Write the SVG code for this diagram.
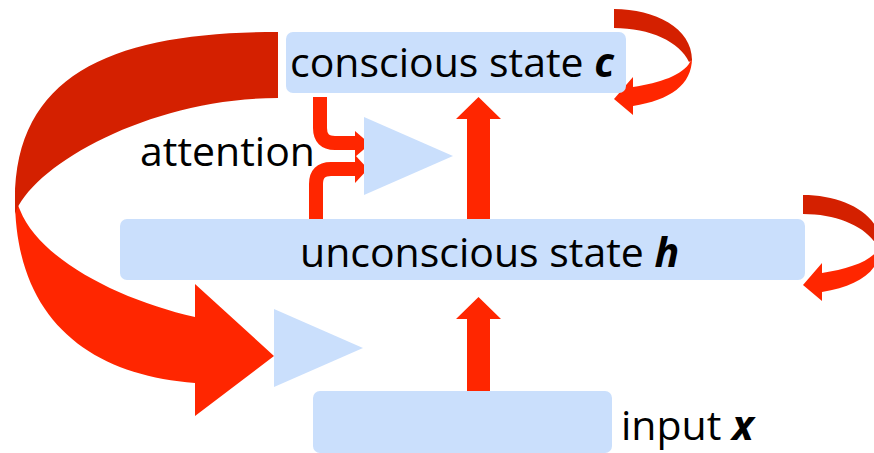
<svg xmlns="http://www.w3.org/2000/svg" width="874" height="453" viewBox="0 0 874 453">
<style>
.box{fill:#CADFFC}
.gate{fill:#CADFFC}
.lbl{font-family:"Open Sans","Liberation Sans",sans-serif;font-size:41px;fill:#000}
.var{font-weight:bold;font-style:italic}
.red{fill:#FF2600}
.dark{fill:#D42000}
.band{fill:none;stroke:#FF2600;stroke-width:14}
</style>
<defs>
<g id="loop">
<path class="red" d="M692,58 C692,85 670,100 633,106 L633,115 L614,99 L633,77 L633,87 C660,83 683,75 690,62 Z"/>
<path class="dark" d="M614,9 C655,9 692,28 692,60 L689,62 C680,42 650,28 614,28 Z"/>
</g>
</defs>
<rect width="874" height="453" fill="#fff"/>
<g id="connectors">
<path class="red" d="M15,198 C15,320 90,375 195,383 L195,416 L274,356 L195,284 L195,317 C120,300 40,260 20,210 Z"/>
<path class="dark" d="M278,32 C120,32 15,70 15,200 L15,214 C32,165 150,98 278,98 Z"/>
<use href="#loop"/>
<use href="#loop" transform="translate(189,186)"/>
<polygon class="red" points="467,391 467,319 456,319 478.5,297 501,319 490,319 490,391"/>
<polygon class="red" points="467,219 467,119 456,119 478.5,97 501,119 490,119 490,219"/>
<path class="band" d="M320,97 V128 Q320,143 335,143 H357"/>
<polygon class="red" points="355,131 370,144 355,157"/>
<path class="band" d="M316,219 V184 Q316,169 331,169 H357"/>
<polygon class="red" points="355,155 368,169 355,183"/>
</g>
<g id="conscious">
<rect class="box" x="286" y="32" width="340" height="61" rx="7"/>
<text class="lbl" x="290" y="77">conscious state <tspan class="var">c</tspan></text>
</g>
<g id="unconscious">
<rect class="box" x="120" y="219" width="685" height="61" rx="7"/>
<text class="lbl" x="300" y="267">unconscious state <tspan class="var">h</tspan></text>
</g>
<g id="input">
<rect class="box" x="313" y="391" width="299" height="62" rx="7"/>
<text class="lbl" x="621" y="440">input <tspan class="var">x</tspan></text>
</g>
<g id="attention-gate">
<polygon class="gate" points="364,117 453,156 364,195"/>
</g>
<g id="input-gate">
<polygon class="gate" points="274,309 363,348 274,387"/>
</g>
<g id="attention-label">
<text class="lbl" x="140" y="166">attention</text>
</g>
</svg>
